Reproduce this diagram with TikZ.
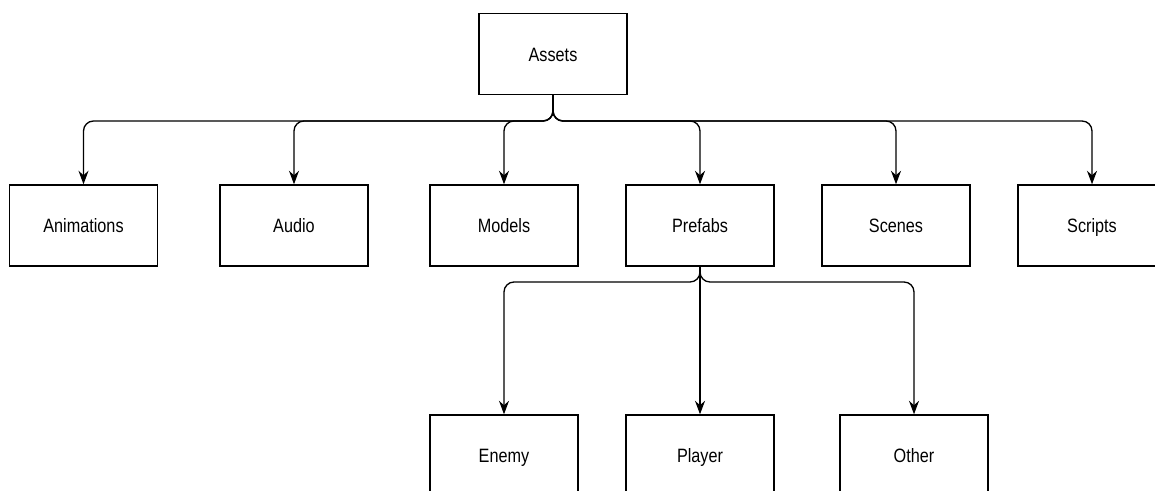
\documentclass[tikz,border=0pt]{standalone}
\usepackage{fontspec}
\setmainfont{Liberation Sans}[FakeStretch=0.84]
\usetikzlibrary{arrows.meta}

\begin{document}
\begin{tikzpicture}[x=0.02cm, y=-0.02cm,
   folder/.style={draw, line width=0.8pt, minimum width=2.96cm, minimum height=1.62cm, text height=1.6ex, text depth=0ex, font=\fontsize{11}{13}\selectfont},
   link/.style={line width=0.75pt, rounded corners=0.2cm, -{Stealth[length=0.27cm, width=0.2cm]}}]
   \useasboundingbox (0,0) rectangle (1155,490);
   \clip (0,0) rectangle (1155,490);
   \node[folder] (assets) at (553,54) {Assets};
   \node[folder] (anim) at (83.5,225.5) {Animations};
   \node[folder] (audio) at (294,225.5) {Audio};
   \node[folder] (models) at (504,225.5) {Models};
   \node[folder] (prefabs) at (700,225.5) {Prefabs};
   \node[folder] (scenes) at (896,225.5) {Scenes};
   \node[folder] (scripts) at (1092,225.5) {Scripts};
   \node[folder] (enemy) at (504,455.5) {Enemy};
   \node[folder] (player) at (700,455.5) {Player};
   \node[folder] (other) at (914,455.5) {Other};
   \coordinate (abus) at (553,121);
   \coordinate (pbus) at (700,282);
   \foreach \n in {anim,audio,models,prefabs,scenes,scripts}
      \draw[link] (assets.south) -- (abus) -| (\n.north);
   \draw[link] (prefabs.south) -- (pbus) -| (enemy.north);
   \draw[link] (prefabs.south) -- (player.north);
   \draw[link] (prefabs.south) -- (pbus) -| (other.north);
\end{tikzpicture}
\end{document}
